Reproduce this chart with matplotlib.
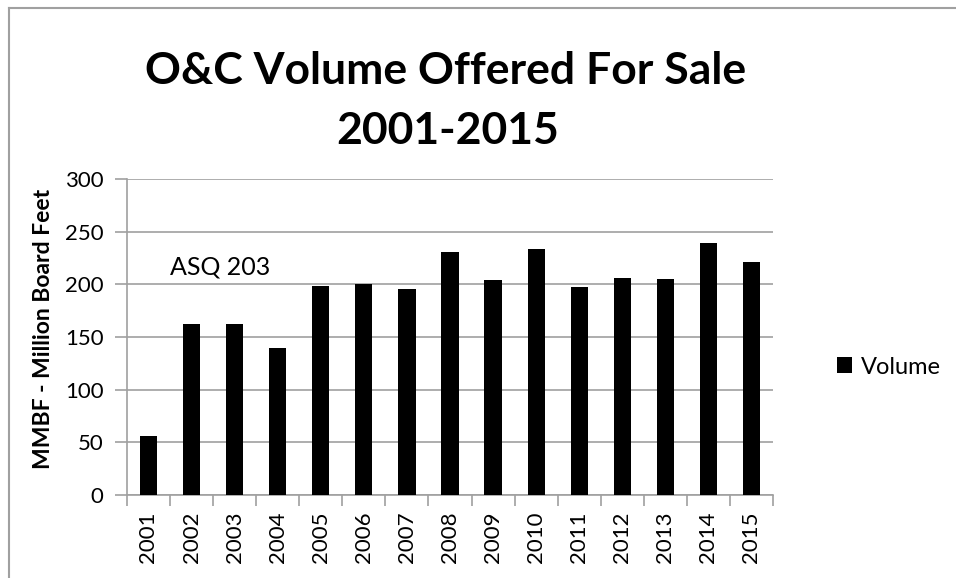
import matplotlib
matplotlib.use('Agg')
import matplotlib.pyplot as plt
from matplotlib.lines import Line2D
import numpy as np

plt.rcParams['font.family'] = ['Lato', 'DejaVu Sans']

years = ['2001', '2002', '2003', '2004', '2005', '2006', '2007', '2008',
         '2009', '2010', '2011', '2012', '2013', '2014', '2015']
volume = [56, 162, 162.5, 140, 198.5, 200.5, 196, 230.5,
          204, 234, 197, 206, 205, 239, 221]
yticks = [0, 50, 100, 150, 200, 250, 300]

fig = plt.figure(figsize=(9.56, 5.78), dpi=100)
ax = fig.add_axes([0.1328, 0.1436, 0.8086 - 0.1328, 0.6903 - 0.1436])

x = np.arange(len(years))
bars = ax.bar(x, volume, width=0.4, color='black', label='Volume', zorder=3)

ax.set_xlim(-0.5, len(years) - 0.5)
ax.set_ylim(0, 300)
ax.set_yticks(yticks)
ax.yaxis.grid(True, color='#a0a0a0', linewidth=1.2, zorder=0)

ax.set_xticks(x)
ax.set_xticklabels(years, rotation=90, fontsize=16)
ax.tick_params(axis='x', length=0, pad=12)
# tick marks between categories
ax.set_xticks(np.arange(-0.5, len(years)), minor=True)
ax.tick_params(axis='x', which='minor', length=8, color='#a0a0a0', width=1.2)
ax.tick_params(axis='y', labelsize=16, length=9, color='#a0a0a0', width=1.2, pad=8)

for s in ['top', 'right']:
    ax.spines[s].set_visible(False)
for s in ['left', 'bottom']:
    ax.spines[s].set_color('#a0a0a0')
    ax.spines[s].set_linewidth(1.2)

ax.set_ylabel('MMBF - Million Board Feet', fontsize=16.5, fontweight='bold')
ax.yaxis.set_label_coords(-0.113, 0.525)

ax.text(0.5, 216, 'ASQ 203', fontsize=18, ha='left', va='center')

fig.text(0.466, 0.878, 'O&C Volume Offered For Sale', fontsize=32, fontweight='bold',
         ha='center', va='center')
fig.text(0.468, 0.774, '2001-2015', fontsize=32, fontweight='bold',
         ha='center', va='center')

fig.legend(handles=[bars], loc='center left', bbox_to_anchor=(0.875, 0.365),
           frameon=False, fontsize=17, handlelength=0.65, handleheight=0.65,
           handletextpad=0.4, borderpad=0, borderaxespad=0)

# chart area border (top and left visible)
fig.add_artist(Line2D([0.009, 1.0], [0.986, 0.986], color='#a0a0a0', linewidth=1.5,
                      transform=fig.transFigure))
fig.add_artist(Line2D([0.009, 0.009], [0.0, 0.986], color='#a0a0a0', linewidth=1.5,
                      transform=fig.transFigure))

fig.savefig('out.png', dpi=100)
